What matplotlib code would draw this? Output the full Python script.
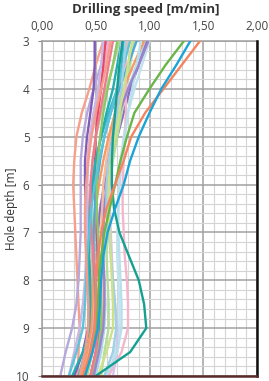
import matplotlib
matplotlib.use("Agg")
import matplotlib.pyplot as plt
from matplotlib.ticker import MultipleLocator, FixedLocator

depths = [3.0, 3.5, 4.0, 4.5, 5.0, 5.5, 6.0, 6.5, 7.0, 7.5, 8.0, 8.5, 9.0, 9.5, 10.0]

s01 = [1.47, 1.30, 1.13, 0.96, 0.83, 0.76, 0.68, 0.60, 0.55, 0.52, 0.50, 0.50, 0.49, 0.45, 0.38]
s02 = [1.38, 1.25, 1.11, 1.00, 0.90, 0.82, 0.76, 0.68, 0.61, 0.57, 0.55, 0.54, 0.52, 0.47, 0.40]
s03 = [1.32, 1.15, 1.00, 0.86, 0.79, 0.73, 0.68, 0.63, 0.58, 0.55, 0.53, 0.52, 0.50, 0.45, 0.40]
s04 = [0.75, 0.72, 0.70, 0.68, 0.66, 0.65, 0.65, 0.67, 0.72, 0.81, 0.90, 0.95, 0.97, 0.82, 0.50]
s05 = [0.57, 0.50, 0.44, 0.37, 0.32, 0.30, 0.29, 0.30, 0.31, 0.32, 0.33, 0.34, 0.35, 0.34, 0.33]
s06 = [0.60, 0.55, 0.48, 0.42, 0.38, 0.36, 0.36, 0.36, 0.36, 0.35, 0.34, 0.32, 0.28, 0.22, 0.17]
s07 = [0.49, 0.49, 0.48, 0.45, 0.42, 0.40, 0.40, 0.41, 0.42, 0.43, 0.44, 0.44, 0.43, 0.38, 0.30]
s08 = [0.62, 0.58, 0.53, 0.48, 0.44, 0.42, 0.42, 0.43, 0.45, 0.47, 0.48, 0.49, 0.48, 0.44, 0.38]
s09 = [0.59, 0.57, 0.55, 0.52, 0.50, 0.49, 0.49, 0.50, 0.51, 0.52, 0.53, 0.54, 0.53, 0.50, 0.45]
s10 = [0.72, 0.66, 0.60, 0.55, 0.50, 0.47, 0.46, 0.46, 0.47, 0.48, 0.50, 0.51, 0.50, 0.47, 0.42]
s11 = [0.76, 0.74, 0.70, 0.62, 0.55, 0.50, 0.46, 0.44, 0.43, 0.43, 0.44, 0.45, 0.44, 0.40, 0.34]
s12 = [0.97, 0.88, 0.80, 0.72, 0.65, 0.60, 0.57, 0.56, 0.56, 0.57, 0.58, 0.59, 0.58, 0.55, 0.50]
s13 = [0.98, 0.90, 0.82, 0.76, 0.70, 0.64, 0.58, 0.54, 0.52, 0.52, 0.53, 0.54, 0.54, 0.52, 0.47]
s14 = [1.00, 0.93, 0.86, 0.80, 0.76, 0.73, 0.72, 0.71, 0.70, 0.70, 0.71, 0.72, 0.72, 0.68, 0.62]
s15 = [0.86, 0.82, 0.78, 0.74, 0.70, 0.66, 0.63, 0.61, 0.60, 0.60, 0.61, 0.62, 0.62, 0.58, 0.55]
s16 = [0.74, 0.70, 0.66, 0.60, 0.55, 0.50, 0.47, 0.45, 0.44, 0.44, 0.45, 0.46, 0.45, 0.38, 0.28]
s17 = [0.80, 0.76, 0.72, 0.68, 0.64, 0.60, 0.57, 0.56, 0.55, 0.56, 0.57, 0.57, 0.56, 0.52, 0.46]
s18 = [0.95, 0.85, 0.76, 0.68, 0.62, 0.57, 0.53, 0.50, 0.48, 0.47, 0.47, 0.47, 0.46, 0.42, 0.36]
s19 = [0.78, 0.78, 0.78, 0.78, 0.77, 0.76, 0.75, 0.75, 0.76, 0.77, 0.79, 0.80, 0.80, 0.74, 0.62]
s20 = [0.57, 0.55, 0.52, 0.48, 0.45, 0.43, 0.42, 0.42, 0.42, 0.41, 0.40, 0.38, 0.35, 0.30, 0.25]
s21 = [0.88, 0.80, 0.72, 0.64, 0.58, 0.54, 0.51, 0.49, 0.48, 0.48, 0.49, 0.50, 0.49, 0.45, 0.40]
s22 = [0.74, 0.72, 0.70, 0.68, 0.66, 0.64, 0.63, 0.63, 0.64, 0.65, 0.66, 0.68, 0.70, 0.70, 0.66]
s23 = [0.92, 0.88, 0.84, 0.80, 0.77, 0.74, 0.72, 0.71, 0.71, 0.72, 0.73, 0.74, 0.74, 0.70, 0.60]
s24 = [0.70, 0.66, 0.61, 0.57, 0.54, 0.52, 0.51, 0.51, 0.52, 0.53, 0.54, 0.55, 0.55, 0.52, 0.47]
s25 = [0.66, 0.62, 0.58, 0.54, 0.50, 0.47, 0.45, 0.45, 0.46, 0.48, 0.50, 0.51, 0.52, 0.50, 0.45]
s26 = [0.82, 0.76, 0.70, 0.64, 0.58, 0.53, 0.49, 0.46, 0.44, 0.42, 0.41, 0.40, 0.38, 0.32, 0.25]
s27 = [0.64, 0.60, 0.55, 0.50, 0.46, 0.43, 0.41, 0.40, 0.40, 0.41, 0.42, 0.43, 0.43, 0.40, 0.35]
s28 = [0.99, 0.90, 0.80, 0.72, 0.66, 0.62, 0.60, 0.58, 0.57, 0.57, 0.58, 0.58, 0.57, 0.53, 0.48]
s29 = [0.78, 0.76, 0.74, 0.70, 0.66, 0.62, 0.60, 0.60, 0.62, 0.64, 0.66, 0.68, 0.69, 0.66, 0.58]
s30 = [0.84, 0.80, 0.76, 0.72, 0.68, 0.64, 0.62, 0.62, 0.63, 0.64, 0.65, 0.66, 0.66, 0.60, 0.52]

series = [s01, s02, s03, s04, s05, s06, s07, s08, s09, s10, s11, s12, s13, s14, s15,
          s16, s17, s18, s19, s20, s21, s22, s23, s24, s25, s26, s27, s28, s29, s30]
colors = ["#f4845f", "#1ba3d6", "#6ab547", "#14a090", "#f6a08c", "#b6a8db", "#7d5cb8",
          "#f5a9c4", "#e8456a", "#a9d98a", "#3ab8d0", "#a9d5ea", "#8a6cc0", "#c2e2ee",
          "#b5dd9a", "#22aeb0", "#f7b99c", "#f59a60", "#f4b6cc", "#c7b8e4", "#4aa8dc",
          "#d4c4ea", "#b8e0ec", "#8cc86a", "#ef7a90", "#5cc4d8", "#f59c88", "#9c84cc",
          "#9fd0e6", "#cde08a"]
# draw the three long lines and the teal bulge on top
order = list(range(4, 30)) + [3, 2, 0, 1]

x_ticks = [0.0, 0.5, 1.0, 1.5, 2.0]
x_labels = ["0,00", "0,50", "1,00", "1,50", "2,00"]
y_ticks = [3, 4, 5, 6, 7, 8, 9, 10]

fig = plt.figure(figsize=(2.69, 3.81), dpi=100)
ax = fig.add_axes([42 / 269, 1 - 376 / 381, 215 / 269, 335 / 381])

for i in order:
    ax.plot(series[i], depths, color=colors[i], lw=1.7, solid_capstyle="round", zorder=3)

ax.set_xlim(0, 2)
ax.set_ylim(10, 3)
ax.xaxis.set_major_locator(FixedLocator(x_ticks))
ax.xaxis.set_minor_locator(MultipleLocator(0.1))
ax.yaxis.set_major_locator(FixedLocator(y_ticks))
ax.yaxis.set_minor_locator(MultipleLocator(0.2))
ax.grid(which="minor", color="#d4d4d4", lw=0.8, zorder=0)
ax.grid(which="major", color="#a0a0a0", lw=1.1, zorder=1)
ax.set_axisbelow(True)

ax.xaxis.tick_top()
ax.set_xticks(x_ticks)
ax.set_xticklabels(x_labels)
ax.tick_params(axis="x", which="both", length=0, pad=6, labelsize=8.5, colors="#444444")
ax.tick_params(axis="y", which="major", length=3, width=0.8, color="#888888",
               labelsize=8.5, labelcolor="#444444", pad=6)
ax.tick_params(axis="y", which="minor", length=0)

for name in ("left", "top"):
    ax.spines[name].set_color("#a0a0a0")
    ax.spines[name].set_linewidth(1.1)
ax.spines["right"].set_color("#111111")
ax.spines["right"].set_linewidth(1.8)
ax.spines["bottom"].set_color("#5a2a2a")
ax.spines["bottom"].set_linewidth(1.8)
ax.spines["bottom"].set_zorder(5)
ax.spines["right"].set_zorder(5)

fig.text(0.54, 1 - 10 / 381, "Drilling speed [m/min]", ha="center", va="center",
         fontsize=9.5, fontweight="bold", color="#333333", family="Open Sans")
ax.set_ylabel("Hole depth [m]", fontsize=8.5, color="#333333", family="Open Sans")
ax.yaxis.set_label_coords(-0.11, 0.5)
for lbl in ax.get_xticklabels() + ax.get_yticklabels():
    lbl.set_family("Open Sans")

fig.savefig("out.png", dpi=100)
